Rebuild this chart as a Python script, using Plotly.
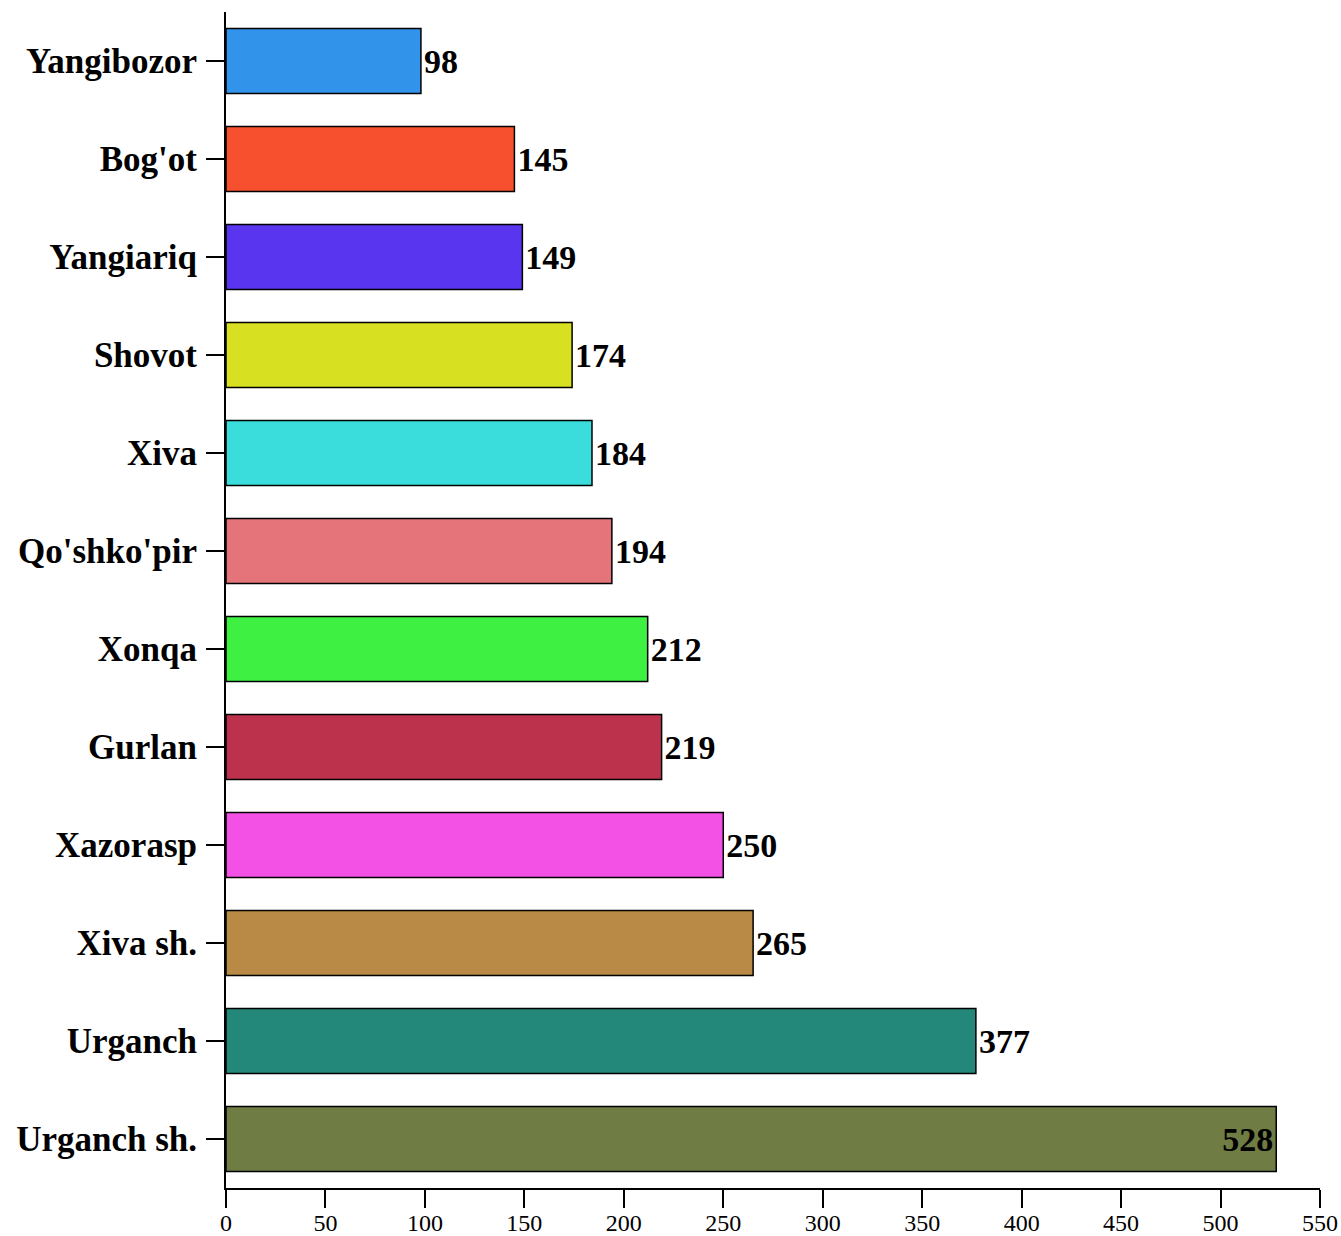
import plotly.graph_objects as go

# District values (top to bottom as shown)
districts = ["Yangibozor", "Bog'ot", "Yangiariq", "Shovot", "Xiva", "Qo'shko'pir",
             "Xonqa", "Gurlan", "Xazorasp", "Xiva sh.", "Urganch", "Urganch sh."]
counts = [98, 145, 149, 174, 184, 194, 212, 219, 250, 265, 377, 528]
bar_colors = ["#3193EA", "#F7502E", "#5A35EF", "#D8E022", "#3ADDDB", "#E5737A",
              "#3EF042", "#BC314B", "#F350E6", "#B98946", "#23887A", "#6F7C43"]
x_ticks = list(range(0, 551, 50))

serif = "Liberation Serif, Times New Roman, serif"

# longest bar carries its label inside, the rest outside
label_pos = ["outside"] * (len(counts) - 1) + ["inside"]

fig = go.Figure(go.Bar(
    x=counts,
    y=districts,
    orientation="h",
    marker=dict(color=bar_colors, line=dict(color="black", width=1.5)),
    text=counts,
    textposition=label_pos,
    insidetextanchor="end",
    textfont=dict(family=serif, size=34, color="black", weight="bold"),
    cliponaxis=False,
))

fig.update_layout(
    width=1341, height=1236,
    margin=dict(l=226, r=21, t=12, b=48, autoexpand=False),
    paper_bgcolor="white", plot_bgcolor="white",
    bargap=0.337,
    showlegend=False,
    font=dict(family=serif, color="black"),
)
fig.update_xaxes(
    range=[0, 550], tickvals=x_ticks, automargin=False,
    showgrid=False, zeroline=False,
    showline=True, linecolor="black", linewidth=2,
    ticks="outside", ticklen=18, tickwidth=2, tickcolor="black",
    ticklabelstandoff=-6,
    tickfont=dict(family=serif, size=24, color="black"),
)
fig.update_yaxes(
    categoryorder="array", categoryarray=districts, autorange="reversed",
    automargin=False,
    showgrid=False, zeroline=False,
    showline=True, linecolor="black", linewidth=2,
    ticks="outside", ticklen=18, tickwidth=2, tickcolor="black",
    ticklabelstandoff=2,
    tickfont=dict(family=serif, size=35, color="black", weight="bold"),
)

# drop the default page margin so the figure fills the window exactly
fig.write_html(
    "out.html",
    config={"displayModeBar": False},
    post_script="document.body.style.margin='0';document.body.style.overflow='hidden';",
)
